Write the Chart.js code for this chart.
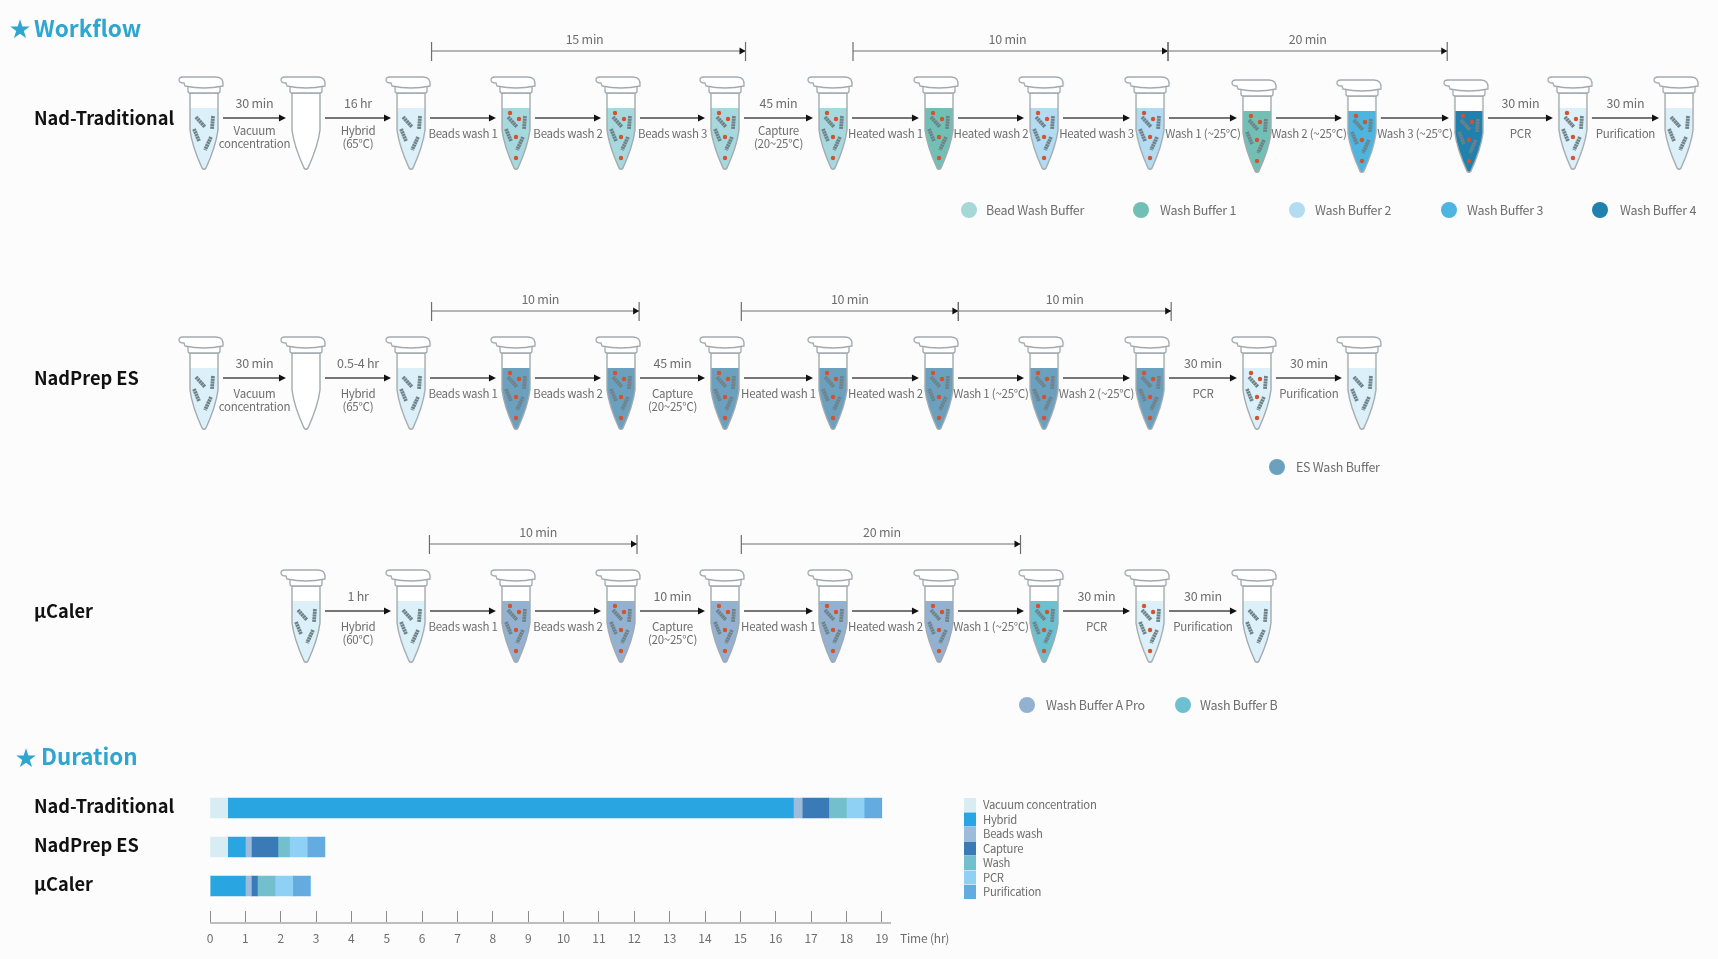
<!DOCTYPE html>
<html>
<head>
<meta charset="utf-8">
<title>Workflow and duration</title>
<script src="https://cdn.jsdelivr.net/npm/chart.js@4/dist/chart.umd.min.js"></script>
<style>
  html, body { margin: 0; padding: 0; background: #fcfcfc; overflow: hidden; }
  #page { position: relative; width: 1718px; height: 959px; }
  canvas { position: absolute; left: 0; filter: blur(0.4px); }
  #flow { top: 0; }
  #duration { top: 770px; }
</style>
</head>
<body>
<div id="page">
  <canvas id="flow" width="1718" height="770"></canvas>
  <canvas id="duration" width="1718" height="189"></canvas>
</div>
<script>
// ---- duration data (hours) ----
const methods = ['Nad-Traditional', 'NadPrep ES', 'μCaler'];
const stages = ['Vacuum concentration', 'Hybrid', 'Beads wash', 'Capture', 'Wash', 'PCR', 'Purification'];
const vacuumHours = [0.5, 0.5, 0];
const hybridHours = [16, 0.5, 1];
const beadsWashHours = [0.25, 0.17, 0.17];
const captureHours = [0.75, 0.75, 0.17];
const washHours = [0.5, 0.33, 0.5];
const pcrHours = [0.5, 0.5, 0.5];
const purificationHours = [0.5, 0.5, 0.5];
const timeTicks = [0, 1, 2, 3, 4, 5, 6, 7, 8, 9, 10, 11, 12, 13, 14, 15, 16, 17, 18, 19];

// ---- workflow data ----
const nadTubes = ['pale', 'empty', 'pale', 'bead', 'bead', 'bead', 'bead', 'wb1', 'wb2', 'wb2', 'wb1', 'wb3', 'wb4', 'paleBeads', 'pale'];
const nadTop = ['30 min', '16 hr', '', '', '', '45 min', '', '', '', '', '', '', '30 min', '30 min'];
const nadBottom = ['Vacuum|concentration', 'Hybrid|(65℃)', 'Beads wash 1', 'Beads wash 2', 'Beads wash 3', 'Capture|(20~25℃)', 'Heated wash 1', 'Heated wash 2', 'Heated wash 3', 'Wash 1 (~25℃)', 'Wash 2 (~25℃)', 'Wash 3 (~25℃)', 'PCR', 'Purification'];
const nadSpans = [[2.16, 5.14, '15 min', -4], [6.16, 9.15, '10 min', -3], [9.15, 11.8, '20 min', 0]];
const nadBuffers = ['Bead Wash Buffer', 'Wash Buffer 1', 'Wash Buffer 2', 'Wash Buffer 3', 'Wash Buffer 4'];

const esTubes = ['pale', 'empty', 'pale', 'es', 'es', 'es', 'es', 'es', 'es', 'es', 'paleBeads', 'pale'];
const esTop = ['30 min', '0.5-4 hr', '', '', '45 min', '', '', '', '', '30 min', '30 min'];
const esBottom = ['Vacuum|concentration', 'Hybrid|(65℃)', 'Beads wash 1', 'Beads wash 2', 'Capture|(20~25℃)', 'Heated wash 1', 'Heated wash 2', 'Wash 1 (~25℃)', 'Wash 2 (~25℃)', 'PCR', 'Purification'];
const esSpans = [[2.16, 4.13, '10 min', 5], [5.1, 7.16, '10 min', 0], [7.16, 9.18, '10 min', 0]];
const esBuffers = ['ES Wash Buffer'];

const calerTubes = ['pale', 'pale', 'apro', 'apro', 'apro', 'apro', 'apro', 'b', 'paleBeads', 'pale'];
const calerTop = ['1 hr', '', '', '10 min', '', '', '', '30 min', '30 min'];
const calerBottom = ['Hybrid|(60℃)', 'Beads wash 1', 'Beads wash 2', 'Capture|(20~25℃)', 'Heated wash 1', 'Heated wash 2', 'Wash 1 (~25℃)', 'PCR', 'Purification'];
const calerSpans = [[2.14, 4.11, '10 min', 5], [5.1, 7.75, '20 min', 1]];
const calerBuffers = ['Wash Buffer A Pro', 'Wash Buffer B'];

// ---- styling and layout ----
const FONT = '"Noto Sans CJK SC", "Noto Sans", sans-serif';
const TEXT_GREY = '#6e6e6e';
const HEAD_BLUE = '#2fa5cf';
const STAGE_COLORS = ['#d8ecf4', '#29a6e1', '#9dbcdb', '#3a7ab7', '#74bfce', '#8ed1f4', '#64ace0'];
const LIQUID = {
  empty: null, pale: '#dcf0f9', paleBeads: '#dcf0f9', bead: '#a6d8de', wb1: '#72c0b5', wb2: '#b3dcf3',
  wb3: '#4db5e0', wb4: '#2080ae', es: '#6ca0bf', apro: '#93b2d1', b: '#6cc0d0',
};
const BUFFER_COLORS = {
  'Bead Wash Buffer': '#a6d8d8', 'Wash Buffer 1': '#72c0b5', 'Wash Buffer 2': '#b3dcf3', 'Wash Buffer 3': '#4db5e0',
  'Wash Buffer 4': '#2080ae', 'ES Wash Buffer': '#6ca0bf', 'Wash Buffer A Pro': '#93b2d1', 'Wash Buffer B': '#6cc0d0',
};
// column centres on the flow x scale, lanes on the flow y scale
const COLUMN_POS = [0, 0.968, 1.965, 2.961, 3.958, 4.945, 5.97, 6.976, 7.973, 8.979, 9.994, 10.99, 12.006, 12.993, 14];
const LANE_POS = [0, 2.6, 4.93];
const LANES = [
  { name: methods[0], tubes: nadTubes, top: nadTop, bottom: nadBottom, spans: nadSpans, firstCol: 0, twoLine: 13, oneLine: 16,
    buffers: nadBuffers, bufferDot: [969, 1141, 1297, 1449, 1600], bufferText: [986, 1160, 1315, 1467, 1620], bufferY: 92, dropped: [10, 11, 12] },
  { name: methods[1], tubes: esTubes, top: esTop, bottom: esBottom, spans: esSpans, firstCol: 0, twoLine: 16, oneLine: 16,
    buffers: esBuffers, bufferDot: [1277], bufferText: [1296], bufferY: 89, dropped: [] },
  { name: methods[2], tubes: calerTubes, top: calerTop, bottom: calerBottom, spans: calerSpans, firstCol: 1, twoLine: 16, oneLine: 16,
    buffers: calerBuffers, bufferDot: [1027, 1183], bufferText: [1046, 1200], bufferY: 94, dropped: [] },
];

function putText(ctx, str, x, y, font, color, align, spacing) {
  ctx.font = font;
  ctx.fillStyle = color;
  ctx.textAlign = align || 'center';
  ctx.textBaseline = 'middle';
  ctx.letterSpacing = spacing || '0px';
  ctx.fillText(str, x, y);
  ctx.letterSpacing = '0px';
}

// One tube picture, used as the scatter point style. Its centre sits on the lane line.
function tubeBodyPath(c) {
  c.beginPath();
  c.moveTo(-14, -25);
  c.lineTo(-14, 12);
  c.quadraticCurveTo(-12, 28, -2, 50);
  c.quadraticCurveTo(0, 52.5, 2, 50);
  c.quadraticCurveTo(12, 28, 14, 12);
  c.lineTo(14, -25);
  c.closePath();
}

function makeTube(kind) {
  const cv = document.createElement('canvas');
  cv.width = 70;
  cv.height = 120;
  const c = cv.getContext('2d');
  c.translate(35, 60);
  const outline = '#a3aaae';

  tubeBodyPath(c);
  c.fillStyle = '#ffffff';
  c.fill();
  if (LIQUID[kind]) {
    c.save();
    tubeBodyPath(c);
    c.clip();
    c.fillStyle = LIQUID[kind];
    c.fillRect(-16, -10, 32, 64);
    c.restore();
    // DNA fragments
    c.strokeStyle = '#6f8288';
    c.lineWidth = 3.8;
    c.setLineDash([2.2, 0.5]);
    [[-8, -1, 1, 9], [9, -2, 8, 11], [-10, 11, -5, 23], [7, 19, 1, 32]].forEach(function (s) {
      c.beginPath();
      c.moveTo(s[0], s[1]);
      c.lineTo(s[2], s[3]);
      c.stroke();
    });
    c.setLineDash([]);
  }
  if (kind !== 'pale' && kind !== 'empty') {
    c.fillStyle = '#d6512c';
    [[-6, -5], [3, 1], [0, 19], [0, 40]].forEach(function (b) {
      c.beginPath();
      c.arc(b[0], b[1], 2.2, 0, Math.PI * 2);
      c.fill();
    });
  }
  tubeBodyPath(c);
  c.strokeStyle = outline;
  c.lineWidth = 1.4;
  c.stroke();

  // cap: rim, lid and the little tab on the left
  c.fillStyle = '#ffffff';
  c.strokeStyle = outline;
  c.lineWidth = 1.3;
  c.beginPath();
  c.roundRect(-16, -33, 32, 8, 2);
  c.fill();
  c.stroke();
  c.beginPath();
  c.moveTo(-25, -38);
  c.quadraticCurveTo(-25, -35, -20, -35);
  c.lineTo(-19, -32);
  c.quadraticCurveTo(0, -28, 19, -32);
  c.quadraticCurveTo(20, -41, 12, -41);
  c.lineTo(-21, -41);
  c.quadraticCurveTo(-25, -41, -25, -38);
  c.closePath();
  c.fill();
  c.stroke();
  return cv;
}

const flowPlugin = {
  id: 'flowPlugin',
  afterDatasetsDraw(chart) {
    const ctx = chart.ctx;
    const xs = chart.scales.x;
    const ys = chart.scales.y;
    const small = '11.5px ' + FONT;
    const mid = '12.5px ' + FONT;
    const tight = '-0.25px';

    putText(ctx, '★', 20, 28, '21px ' + FONT, HEAD_BLUE);
    putText(ctx, 'Workflow', 34, 28, 'bold 22.6px ' + FONT, HEAD_BLUE, 'left');
    putText(ctx, '★', 26, 757, '21px ' + FONT, HEAD_BLUE);
    putText(ctx, 'Duration', 41, 756, 'bold 22.4px ' + FONT, HEAD_BLUE, 'left');

    LANES.forEach(function (lane, l) {
      const laneY = ys.getPixelForValue(LANE_POS[l]);
      putText(ctx, lane.name, 34, laneY, 'bold 18.2px ' + FONT, '#111111', 'left');

      // steps between neighbouring tubes
      lane.bottom.forEach(function (label, i) {
        const from = xs.getPixelForValue(COLUMN_POS[lane.firstCol + i]);
        const to = xs.getPixelForValue(COLUMN_POS[lane.firstCol + i + 1]);
        const x0 = from + 19;
        const x1 = to - 20;
        ctx.strokeStyle = '#4a4a4a';
        ctx.lineWidth = 1.3;
        ctx.beginPath();
        ctx.moveTo(x0, laneY);
        ctx.lineTo(x1 - 5, laneY);
        ctx.stroke();
        ctx.fillStyle = '#111111';
        ctx.beginPath();
        ctx.moveTo(x1, laneY);
        ctx.lineTo(x1 - 7, laneY - 3.5);
        ctx.lineTo(x1 - 7, laneY + 3.5);
        ctx.closePath();
        ctx.fill();

        const mx = (x0 + x1) / 2;
        if (lane.top[i]) putText(ctx, lane.top[i], mx, laneY - 15, mid, TEXT_GREY, 'center', tight);
        const rows = label.split('|');
        if (rows.length === 2) {
          putText(ctx, rows[0], mx, laneY + lane.twoLine, small, TEXT_GREY, 'center', tight);
          putText(ctx, rows[1], mx, laneY + lane.twoLine + 13, small, TEXT_GREY, 'center', tight);
        } else {
          putText(ctx, label, mx, laneY + lane.oneLine, small, TEXT_GREY, 'center', tight);
        }
      });

      // timing brackets above the tubes
      lane.spans.forEach(function (span) {
        const a = xs.getPixelForValue(span[0]);
        const b = xs.getPixelForValue(span[1]);
        const y = laneY - 67;
        ctx.strokeStyle = '#6e6e6e';
        ctx.lineWidth = 1.2;
        ctx.beginPath();
        ctx.moveTo(a, y - 9);
        ctx.lineTo(a, y + 10);
        ctx.moveTo(b, y - 9);
        ctx.lineTo(b, y + 10);
        ctx.moveTo(a, y);
        ctx.lineTo(b, y);
        ctx.stroke();
        ctx.fillStyle = '#111111';
        ctx.beginPath();
        ctx.moveTo(b, y);
        ctx.lineTo(b - 6, y - 3.5);
        ctx.lineTo(b - 6, y + 3.5);
        ctx.closePath();
        ctx.fill();
        putText(ctx, span[2], (a + b) / 2 + span[3], y - 12, mid, TEXT_GREY, 'center', tight);
      });

      // buffer key for this lane
      lane.buffers.forEach(function (name, i) {
        const y = laneY + lane.bufferY;
        ctx.fillStyle = BUFFER_COLORS[name];
        ctx.beginPath();
        ctx.arc(lane.bufferDot[i], y, 8, 0, Math.PI * 2);
        ctx.fill();
        putText(ctx, name, lane.bufferText[i], y, '12.5px ' + FONT, TEXT_GREY, 'left', tight);
      });
    });
  },
};

new Chart(document.getElementById('flow'), {
  type: 'scatter',
  data: {
    datasets: LANES.map(function (lane, l) {
      return {
        label: lane.name,
        data: lane.tubes.map(function (kind, i) {
          const col = lane.firstCol + i;
          const nudge = lane.dropped.includes(col) ? 0.03 : 0;
          return { x: COLUMN_POS[col], y: LANE_POS[l] + nudge };
        }),
        pointStyle: lane.tubes.map(makeTube),
        pointRadius: 30,
        showLine: false,
      };
    }),
  },
  options: {
    responsive: false, animation: false, events: [],
    layout: { padding: 0, autoPadding: false },
    plugins: { legend: { display: false }, tooltip: { enabled: false } },
    scales: {
      x: { display: false, min: -1.936, max: 14.37 },
      y: { display: false, reverse: true, min: -1.18, max: 6.52 },
    },
  },
  plugins: [flowPlugin],
});

const durationPlugin = {
  id: 'durationPlugin',
  afterDraw(chart) {
    const ctx = chart.ctx;
    const xs = chart.scales.x;
    const base = chart.chartArea.bottom + 12;

    // axis line runs a little past the last tick
    ctx.strokeStyle = '#bdbdbd';
    ctx.lineWidth = 2;
    ctx.beginPath();
    ctx.moveTo(xs.left, base);
    ctx.lineTo(xs.right, base);
    ctx.stroke();

    putText(ctx, 'Time (hr)', 900, base + 15, '12px ' + FONT, TEXT_GREY, 'left', '-0.2px');

    // stage key
    chart.data.datasets.forEach(function (ds, i) {
      const y = 35 + i * 14.5;
      ctx.fillStyle = ds.backgroundColor;
      ctx.fillRect(964, y - 7, 12, 14);
      putText(ctx, ds.label, 983, y, '11.3px ' + FONT, TEXT_GREY, 'left', '-0.25px');
    });
  },
};

const hourSeries = [vacuumHours, hybridHours, beadsWashHours, captureHours, washHours, pcrHours, purificationHours];

new Chart(document.getElementById('duration'), {
  type: 'bar',
  data: {
    datasets: stages.map(function (stage, s) {
      return {
        label: stage,
        data: hourSeries[s].map(function (v, i) { return { x: v, y: i }; }),
        backgroundColor: STAGE_COLORS[s],
        barThickness: 20,
      };
    }),
  },
  options: {
    indexAxis: 'y',
    responsive: false, animation: false, events: [],
    layout: { padding: { left: 34, right: 827, top: 18.5, bottom: 0 } },
    plugins: { legend: { display: false }, tooltip: { enabled: false } },
    scales: {
      x: {
        type: 'linear', stacked: true, min: 0, max: 19.26, position: 'bottom',
        afterBuildTicks(scale) { scale.ticks = timeTicks.map(function (v) { return { value: v }; }); },
        afterFit(scale) { scale.height = 48; },
        border: { display: false },
        grid: { drawOnChartArea: false, drawTicks: true, tickLength: 12, color: '#8c8c8c', lineWidth: 1 },
        ticks: { autoSkip: false, maxRotation: 0, padding: 8, color: TEXT_GREY, font: { family: FONT, size: 12 } },
      },
      y: {
        type: 'linear', stacked: true, reverse: true, offset: false, min: -0.5, max: 2.64,
        afterBuildTicks(scale) { scale.ticks = methods.map(function (m, i) { return { value: i }; }); },
        afterFit(scale) { scale.width = 176; },
        border: { display: false },
        grid: { display: false, offset: false },
        ticks: {
          autoSkip: false, crossAlign: 'far', labelOffset: -1.5, color: '#111111', font: { family: FONT, size: 18.2, weight: 'bold' },
          callback(value) { return methods[value]; },
        },
      },
    },
  },
  plugins: [durationPlugin],
});
</script>
</body>
</html>
